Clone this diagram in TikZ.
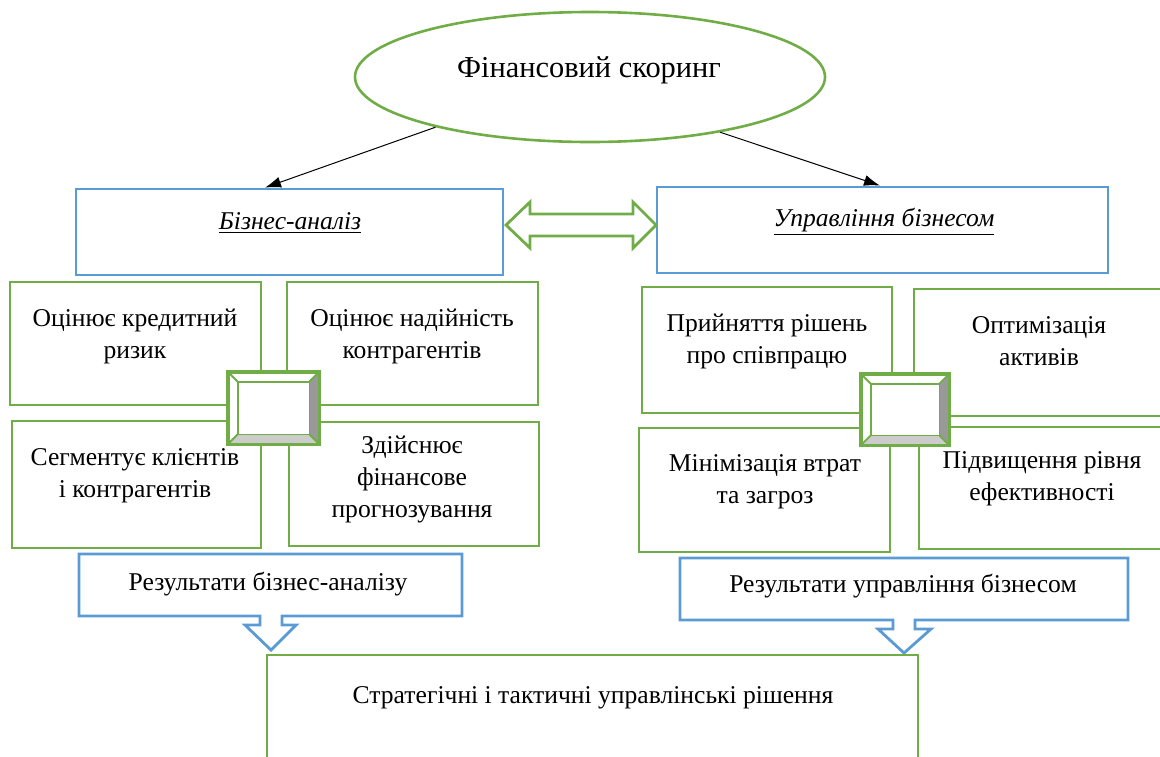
\documentclass[tikz,border=0pt]{standalone}
\usepackage{fontspec}
\setmainfont{Liberation Serif}
\usetikzlibrary{shapes.geometric,arrows.meta}
\definecolor{wordgreen}{HTML}{70AD47}
\definecolor{wordblue}{HTML}{5B9BD5}
\definecolor{bevelshade}{HTML}{999999}
\definecolor{bevellight}{HTML}{CCCCCC}

\begin{document}
\begin{tikzpicture}[x=0.5pt, y=-0.5pt,
    greenbox/.style={draw=wordgreen, line width=1.4pt, fill=white, inner sep=0pt},
    bluebox/.style={draw=wordblue, line width=1.4pt, fill=white, inner sep=0pt},
    boxtext/.style={align=center, font=\fontsize{12.8}{16}\selectfont, inner sep=0pt}]
        \useasboundingbox (0,0) rectangle (1160,756);
        \clip (0,0) rectangle (1160,756);

        % Financial scoring on top
        \node[ellipse, draw=wordgreen, line width=1.3pt, minimum width=235pt, minimum height=65pt, inner sep=0pt] (scoring) at (590,77) {};
        \node[font=\fontsize{15.2}{18}\selectfont] (scoringtxt) at (589,70) {Фінансовий скоринг};

        % Two main directions
        \node[bluebox, minimum width=213.5pt, minimum height=43pt] (analysis) at (289.5,232) {};
        \node[boxtext] (analysistxt) at (290,223) {\underline{\textit{Бізнес-аналіз}}};
        \node[bluebox, minimum width=225.5pt, minimum height=43pt] (manage) at (882.5,230) {};
        \node[boxtext] (managetxt) at (884,222) {\underline{\textit{Управління бізнесом}}};

        % Arrows from the ellipse
        \draw[-{Latex[length=8pt,width=5.5pt]}, line width=0.5pt] (scoring.198) -- (analysis.north -| 265,0);
        \draw[-{Latex[length=8pt,width=5.5pt]}, line width=0.5pt] (scoring.-23) -- (manage.north -| 880,0);

        % Double block arrow between them
        \draw[wordgreen, line width=1.4pt, fill=white] (506,225) -- (530,202) -- (530,214) -- (633,214) -- (633,202) -- (656,225)
          -- (633,248) -- (633,236) -- (530,236) -- (530,248) -- cycle;

        % Business analysis tasks
        \node[greenbox, minimum width=125.5pt, minimum height=61.5pt] (credit) at (135.5,343.5) {};
        \node[boxtext] (credittxt) at (135,336) {Оцінює кредитний\\ризик};
        \node[greenbox, minimum width=125.5pt, minimum height=61.5pt] (trust) at (412.5,343.5) {};
        \node[boxtext] (trusttxt) at (412,336) {Оцінює надійність\\контрагентів};
        \node[greenbox, minimum width=124.5pt, minimum height=63.5pt] (segment) at (136.5,484.5) {};
        \node[boxtext] (segmenttxt) at (135,476) {Сегментує клієнтів\\і контрагентів};
        \node[greenbox, minimum width=125pt, minimum height=62pt] (forecast) at (414,484) {};
        \node[boxtext] (forecasttxt) at (412,479) {Здійснює\\фінансове\\прогнозування};

        % Business management tasks
        \node[greenbox, minimum width=125pt, minimum height=63pt] (coop) at (767,350) {};
        \node[boxtext] (cooptxt) at (767,341) {Прийняття рішень\\про співпрацю};
        \node[greenbox, minimum width=125pt, minimum height=63.5pt] (assets) at (1039,352.5) {};
        \node[boxtext] (assetstxt) at (1039,341.5) {Оптимізація\\активів};
        \node[greenbox, minimum width=125.5pt, minimum height=62pt] (losses) at (764.5,490) {};
        \node[boxtext] (lossestxt) at (765,481.5) {Мінімізація втрат\\та загроз};
        \node[greenbox, minimum width=123pt, minimum height=61pt] (efficiency) at (1042,488) {};
        \node[boxtext] (efficiencytxt) at (1042,478.5) {Підвищення рівня\\ефективності};

        % Bevels in the middle of each group
        \node[greenbox, minimum width=44.5pt, minimum height=35pt] (lbevel) at (273.5,408) {};
        \node[greenbox, minimum width=43pt, minimum height=34.5pt] (rbevel) at (905,409.5) {};
        \foreach \b in {lbevel, rbevel} {
          \fill[bevelshade] (\b.north east) -- (\b.south east) -- ([shift={(-5pt,5pt)}]\b.south east) -- ([shift={(-5pt,-5pt)}]\b.north east) -- cycle;
          \fill[bevellight] (\b.south west) -- (\b.south east) -- ([shift={(-5pt,5pt)}]\b.south east) -- ([shift={(5pt,5pt)}]\b.south west) -- cycle;
          \draw[wordgreen, line width=0.9pt] ([shift={(5pt,-5pt)}]\b.north west) rectangle ([shift={(-5pt,5pt)}]\b.south east);
          \draw[wordgreen, line width=0.9pt] (\b.north west) -- ([shift={(5pt,-5pt)}]\b.north west)
            (\b.north east) -- ([shift={(-5pt,-5pt)}]\b.north east)
            (\b.south west) -- ([shift={(5pt,5pt)}]\b.south west)
            (\b.south east) -- ([shift={(-5pt,5pt)}]\b.south east);
          \draw[wordgreen, line width=1.2pt] (\b.south west) rectangle (\b.north east);
        }

        % Results (down arrow callouts)
        \draw[wordblue, line width=1.4pt, fill=white] (79,554) -- (462,554) -- (462,616) -- (282,616) -- (282,625) -- (296,625) -- (271,650)
          -- (245,625) -- (260,625) -- (260,616) -- (79,616) -- cycle;
        \node[boxtext] (resanalysis) at (268,584) {Результати бізнес-аналізу};
        \draw[wordblue, line width=1.4pt, fill=white] (680,558) -- (1128,558) -- (1128,620) -- (915,620) -- (915,629) -- (931,629) -- (904,653)
          -- (878,629) -- (893,629) -- (893,620) -- (680,620) -- cycle;
        \node[boxtext] (resmanage) at (903,586) {Результати управління бізнесом};

        % Final decisions
        \node[greenbox, minimum width=325.5pt, minimum height=70pt] (decisions) at (592.5,725) {};
        \node[boxtext] (decisionstxt) at (593,698) {Стратегічні і тактичні управлінські рішення};
\end{tikzpicture}
\end{document}
